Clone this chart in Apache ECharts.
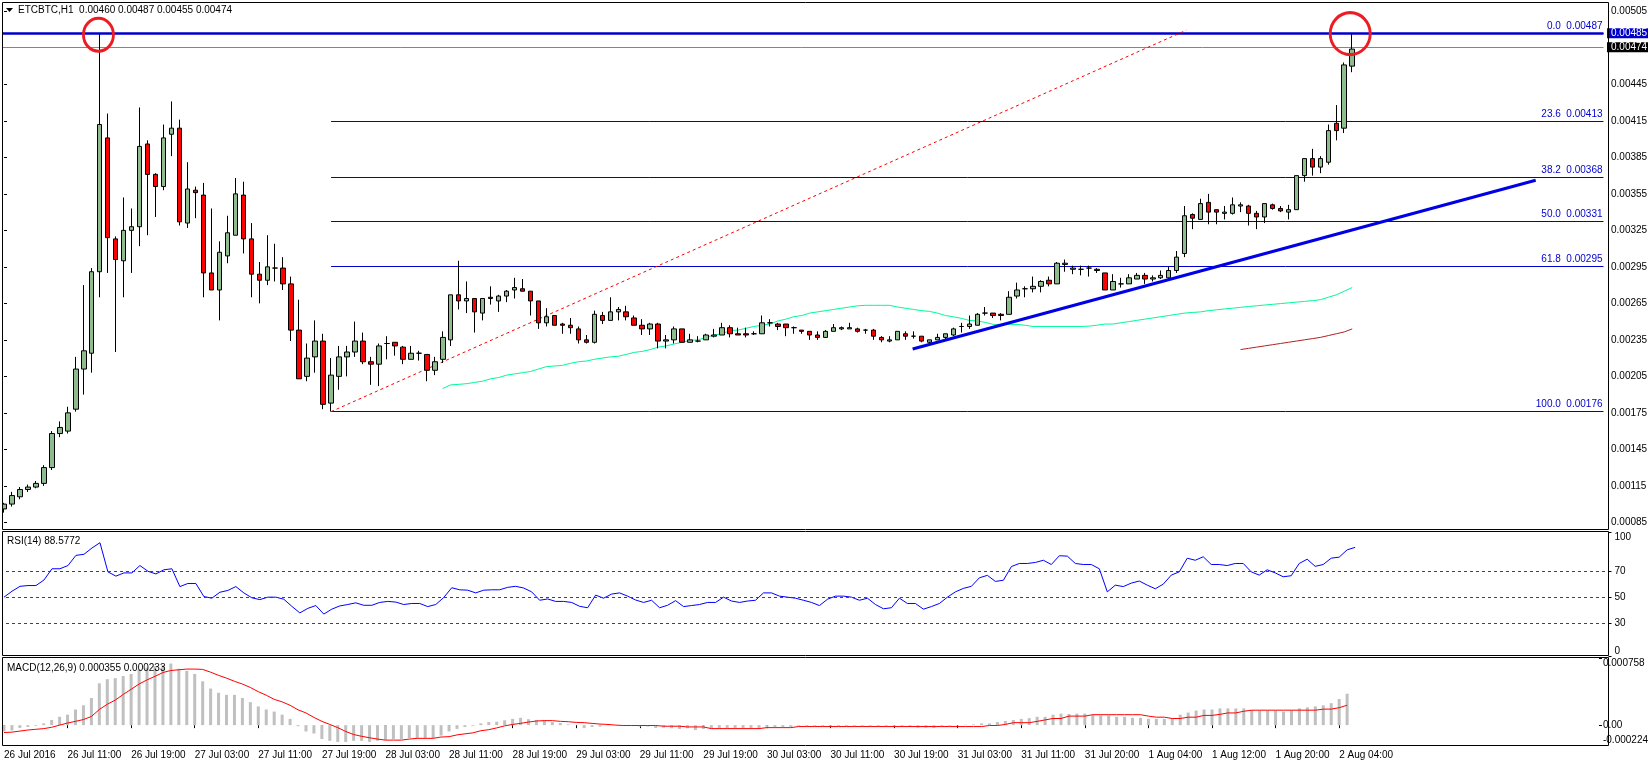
<!DOCTYPE html>
<html>
<head>
<meta charset="utf-8">
<title>ETCBTC H1</title>
<script src="https://cdn.jsdelivr.net/npm/echarts@6/dist/echarts.min.js"></script>
<style>
html,body{margin:0;padding:0;background:#fff;}
#chart{width:1651px;height:760px;}
</style>
</head>
<body>
<div id="chart"></div>
<script>
// prices are kept in points, 1 point = 0.00001 BTC
var opens = [96,100,106,112,114,117,130,158,160,178,211,224,291,401,318,300,325,328,396,371,
    361,404,409,331,358,354,290,276,304,321,354,318,289,284,294,294,281,243,205,221,
    234,183,205,221,225,234,217,215,232,233,229,219,224,223,210,219,235,272,267,269,
    257,270,267,271,276,277,275,267,249,255,248,247,244,235,233,255,251,258,258,253,
    247,244,248,234,235,244,233,234,235,238,239,245,240,240,240,240,249,248,248,245,
    243,242,239,237,242,244,244,244,243,243,237,234,235,240,238,238,233,235,237,239,
    246,246,247,257,257,256,256,271,277,277,279,284,281,297,293,293,294,292,290,276,
    281,281,285,288,285,286,286,292,306,338,334,348,342,339,339,345,345,339,336,346,
    343,340,342,370,384,377,381,413,409,460];
var closes = [100,107,112,114,117,130,158,163,175,211,226,291,412,319,301,325,328,394,371,361,
    401,409,332,359,356,290,276,307,323,355,318,289,284,295,294,281,243,203,220,234,
    182,206,221,225,234,217,215,230,232,230,219,224,224,210,217,237,272,267,269,258,
    269,269,271,275,278,275,267,249,254,247,247,245,235,233,256,251,258,260,254,247,
    244,248,234,235,244,233,235,234,239,239,245,240,239,239,240,249,249,246,245,245,
    242,239,237,242,245,245,245,242,243,238,235,235,242,238,238,234,235,237,240,244,
    246,248,256,257,255,255,270,276,277,279,283,281,298,298,294,293,294,293,276,283,
    281,286,288,285,286,288,292,303,337,335,347,340,340,340,346,346,339,336,347,343,
    341,342,370,384,377,384,407,407,461,474];
var lows = [93,98,104,110,113,115,128,155,158,176,190,208,270,290,225,270,290,312,321,336,
    358,386,329,327,335,270,276,251,298,321,306,270,265,280,283,276,234,203,201,208,
    178,176,194,205,221,215,198,197,219,222,215,219,218,201,206,216,230,260,257,241,
    251,264,258,266,269,275,255,244,246,247,240,240,232,232,232,248,251,251,251,247,
    239,239,228,228,232,233,233,233,235,237,239,237,239,237,239,240,246,243,238,240,
    240,235,235,237,242,243,244,241,240,235,233,233,235,235,236,233,232,235,235,238,
    241,244,247,255,253,251,256,269,270,274,274,279,281,291,289,288,287,290,276,276,
    278,281,285,281,283,285,285,290,303,326,334,330,330,334,338,340,329,326,331,342,
    340,334,342,365,370,372,379,399,405,455];
var highs = [101,110,114,116,119,132,160,168,180,221,280,294,487,421,320,352,343,426,399,372,
    412,431,416,381,361,364,343,316,337,368,365,331,299,321,314,303,287,268,232,251,
    240,220,230,230,250,241,221,232,238,233,230,230,226,223,221,242,272,300,283,269,
    269,279,272,276,286,285,275,267,261,255,249,253,246,239,259,258,270,262,263,255,
    252,249,249,239,246,244,240,238,240,244,249,247,245,245,242,255,252,249,248,246,
    243,242,242,243,248,246,249,245,244,244,238,238,242,242,242,238,235,240,240,245,
    249,255,257,262,257,257,275,282,279,287,284,287,299,301,296,296,296,294,290,289,
    286,289,290,290,288,292,295,308,345,339,351,355,342,345,352,348,346,341,347,347,
    345,346,370,384,392,386,412,428,463,487];

// moving averages, first value sits on the bar named by the *Start variable
var greenMaStart = 55;
var greenMa = [195,198,198.4,199,200,201,203,204,206,207,208,209,211,213,213.5,214,215.7,217,217.6,219,
    220,221,221.5,223,224.7,225.5,227,229,230,231.6,233,234.6,235,237,239,240,242.7,243,244.5,246,
    247,248,250.5,252,254,255,257,258,259,260,261,262,263,263.4,263.4,263.4,263.4,262,261,260,
    259,258.4,257,255,254,252.7,251,250.5,249.4,247.7,247.7,247.7,247.7,247,246,246,246,246,246,246,
    246,246.3,247,248,248,249,250,251,252,253,254,255,256,257,257.5,258,259,259.7,260.4,
    261,261.7,262.4,263,263.6,264.2,264.8,265.4,266,266.6,267.2,268,270,272,275,278];
var redMaStart = 155;
var redMa = [227,228,229,230,231,232,233,234,235,236,237,238.5,240,241.5,244];

var rsiValues = [50,54.6,58.4,59,59,63.3,72,72,74.5,82.4,83.2,88.1,92.2,69.6,66.3,68.8,68.8,74.5,70.1,68,
    71.2,72,58.2,60.6,60.6,50.5,49.2,53.8,55.2,58.2,53.3,49.5,48.1,50,50,48.4,42.9,37.8,41.3,43.5,
    36.9,40.7,43.2,44.3,45.6,43.7,43.7,45.9,46.7,46.2,44.3,45.1,45.1,42.7,44.3,49.7,57.3,55.7,55.4,53.3,
    55.4,55.7,55.7,57.6,58.4,57.1,54.1,47.6,48.6,
    46.7,46.7,45.9,42.9,41.8,51.6,49.2,52.4,53.3,50.8,47.8,45.9,47.6,41.8,43.7,47.3,42.7,43.5,44.3,45.9,
    45.9,50,47,45.9,47,47.6,53.3,53.3,50.8,50,49.2,47.6,45.9,43.5,48.4,50.8,50.8,50,47.6,49.2,
    44.3,41,41.8,49.2,45.1,45.1,40.7,42.7,45.1,50,54.1,56.8,58.4,65,66.9,62.2,63.1,73.7,76.1,76.1,
    76.9,78.6,75.3,82.1,81.8,76.1,75.3,75.3,72,
    54.1,59.3,58.2,60.9,62.5,59.3,56.5,60.1,67.1,69.6,80.2,78.6,81.3,75.3,75.3,74.5,76.1,76.1,69.6,67.1,
    71.2,68.8,65.8,66.6,76.1,79.4,73.9,75.3,80.2,81,86.7,88.58];

// MACD in millionths
var macdBars = [-71,-59,-31,-20,-8,20,59,94,118,177,224,307,472,519,531,554,578,629,649,668,
    676,696,637,613,578,495,413,366,342,342,307,260,212,177,153,118,71,-12,-71,-94,
    -157,-177,-189,-189,-177,-177,-189,-177,-165,-157,-157,-145,-145,-145,-145,-118,-71,-43,-20,-8,
    20,35,39,55,71,83,67,59,59,
    35,24,8,4,-31,-20,-16,-4,0,0,0,-16,-16,-31,-28,-35,-43,-35,-55,-43,
    -43,-43,-39,-39,-39,-39,-39,-28,-20,-20,-20,-8,-12,-12,-12,-12,-12,-12,-12,-12,
    -12,-12,-12,-12,-12,-20,-28,-28,-31,-12,-8,-4,4,8,20,20,35,47,59,71,
    79,94,94,118,130,126,130,130,118,
    110,110,94,94,83,83,71,71,71,79,118,142,165,177,177,189,189,189,189,169,
    165,165,165,153,169,189,201,212,224,248,295,355];
var macdSignal = [-83,-79,-67,-55,-47,-39,-24,0,24,43,63,98,177,236,283,346,405,464,511,551,
    594,617,625,633,633,629,598,562,531,495,464,425,378,338,291,263,224,173,138,87,
    43,8,-28,-71,-106,-126,-142,-157,-169,-169,-169,-157,-149,-149,-149,-134,-130,-110,-98,-87,
    -63,-51,-31,-8,8,20,35,47,51,
    51,43,39,31,28,20,12,8,0,-4,-4,-4,-4,-4,-12,-12,-12,-20,-20,-20,
    -39,-39,-39,-39,-39,-39,-39,-28,-28,-28,-28,-16,-16,-16,-16,-16,-16,-16,-16,-16,
    -16,-16,-16,-16,-16,-16,-16,-16,-16,-16,-16,-16,-16,-16,-16,-4,-4,8,28,28,
    28,43,59,75,75,102,102,102,118,
    118,118,118,118,118,118,102,90,90,75,75,90,90,110,110,122,138,138,157,169,
    169,169,169,169,169,169,169,169,181,181,197,225];

var fibPrices = [487,414.7,368.6,332.5,295.5,176];
var fibLabels = ['0.0  0.00487','23.6  0.00413','38.2  0.00368','50.0  0.00331','61.8  0.00295','100.0  0.00176'];
var fibStartBar = 41;
var resistancePrice = 487;
var currentPrice = 475.5;
// [bar, price]
var supportLine = [[113.9,227.5],[192,366.2]];
var fibRay = [[41,176],[148.2,489.5]];
var circleLeft = [11.84,485.8];
var circleRight = [168.75,486.7];

var priceTicks = [505,487,475.5,445,415,385,355,325,295,265,235,205,175,145,115,85];
var rsiTicks = [30,50,70];
var rsiLevels = [70,50,30];
var macdTicks = [0];
var timeLabels = ['26 Jul 2016','26 Jul 11:00','26 Jul 19:00','27 Jul 03:00','27 Jul 11:00','27 Jul 19:00',
    '28 Jul 03:00','28 Jul 11:00','28 Jul 19:00','29 Jul 03:00','29 Jul 11:00','29 Jul 19:00',
    '30 Jul 03:00','30 Jul 11:00','30 Jul 19:00','31 Jul 03:00','31 Jul 11:00','31 Jul 20:00',
    '1 Aug 04:00','1 Aug 12:00','1 Aug 20:00','2 Aug 04:00'];
var barsPerLabel = 8;
var barSlots = 201; // 170 bars plus the empty space MT4 leaves on the right

var FONT = '"Liberation Sans", sans-serif';
var FONT_SIZE = 10;
var BLUE = '#0000cd';

// every slot is 8px wide, so bar n has its centre at x = 3 + 8n
var gridLeft = -1, gridWidth = 1608, axisOffset = 1.5;
var rsiMin = 4.4, rsiMax = 100.5;

function slotNames() {
    var res = [];
    for (var i = 0; i < barSlots; i++) {
        res.push(i % barsPerLabel === 0 && timeLabels[i / barsPerLabel] ? timeLabels[i / barsPerLabel] : '');
    }
    return res;
}

function indexed(arr, start) {
    var res = [];
    for (var i = 0; i < arr.length; i++) {
        res.push([start + i, arr[i]]);
    }
    return res;
}

function candleData() {
    var res = [];
    for (var i = 0; i < opens.length; i++) {
        res.push([opens[i], closes[i], lows[i], highs[i]]);
    }
    return res;
}

function fibLines() {
    var res = [];
    for (var i = 0; i < fibPrices.length; i++) {
        res.push([
            {coord: [fibStartBar, fibPrices[i]], name: fibLabels[i]},
            {coord: [barSlots - 0.5, fibPrices[i]]}
        ]);
    }
    return res;
}

function isLabelSlot(index) {
    return index % barsPerLabel === 0 && index / barsPerLabel < timeLabels.length;
}

function priceLabel(v) {
    //the two tags on the price axis
    if (v === resistancePrice) {
        return '{blueTag|0.00485}';
    }
    if (v === currentPrice) {
        return '{blackTag|0.00474}';
    }
    return '{n|0.00' + ('00' + v).slice(-3) + '}';
}

function hiddenX(idx) {
    return {type: 'category', gridIndex: idx, data: slotNames(), show: false};
}

function frame(top, bottom) {
    return {
        type: 'rect', silent: true, z: 100,
        shape: {x: 2.5, y: top, width: 1606, height: bottom - top},
        style: {fill: null, stroke: '#000', lineWidth: 1}
    };
}

var tagBase = {fontFamily: FONT, fontSize: FONT_SIZE, width: 37, height: 10, lineHeight: 10, padding: [0, 0, 0, 4], align: 'left'};

var option = {
    animation: false,
    backgroundColor: '#fff',
    title: [
        {text: 'ETCBTC,H1  0.00460 0.00487 0.00455 0.00474', left: 18, top: 5, padding: 0,
            textStyle: {fontFamily: FONT, fontSize: FONT_SIZE, fontWeight: 'normal', color: '#000'}},
        {text: 'RSI(14) 88.5772', left: 7, top: 536, padding: 0,
            textStyle: {fontFamily: FONT, fontSize: FONT_SIZE, fontWeight: 'normal', color: '#000'}},
        {text: 'MACD(12,26,9) 0.000355 0.000233', left: 7, top: 663, padding: 0,
            textStyle: {fontFamily: FONT, fontSize: FONT_SIZE, fontWeight: 'normal', color: '#000'}}
    ],
    graphic: [
        //bars left of the frame are cut off like in the terminal
        {type: 'rect', silent: true, z: 99, shape: {x: 0, y: 0, width: 2.5, height: 760}, style: {fill: '#fff'}},
        frame(2.5, 529.5),
        frame(531.5, 655.5),
        frame(657.5, 745.5),
        //the little drop-down arrow in front of the symbol name
        {type: 'polygon', silent: true, z: 100, shape: {points: [[6, 8], [13, 8], [9.5, 12]]}, style: {fill: '#000'}}
    ],
    grid: [
        {left: gridLeft, width: gridWidth, top: 2.5, height: 527.5},
        {left: gridLeft, width: gridWidth, top: 532, height: 124},
        {left: gridLeft, width: gridWidth, top: 658, height: 87.6}
    ],
    xAxis: [
        hiddenX(0),
        hiddenX(1),
        {
            type: 'category', gridIndex: 2, data: slotNames(),
            axisLine: {show: false},
            axisTick: {show: true, length: 3, alignWithLabel: true, interval: function (i) { return isLabelSlot(i); }, lineStyle: {color: '#000'}},
            axisLabel: {
                show: true, align: 'left', margin: 5, hideOverlap: false,
                interval: function (i) { return isLabelSlot(i); },
                fontFamily: FONT, fontSize: FONT_SIZE, color: '#000'
            }
        },
        //same width as the slots, for lines that start or end between two bars
        {type: 'value', gridIndex: 0, min: -0.5, max: barSlots - 0.5, show: false, splitLine: {show: false}}
    ],
    yAxis: [
        {
            type: 'value', gridIndex: 0, position: 'right', offset: axisOffset, min: 78.7, max: 512.3, scale: true,
            splitLine: {show: false},
            axisLine: {show: false},
            axisTick: {show: true, length: 3, lineStyle: {color: '#000'}, customValues: priceTicks},
            axisLabel: {
                show: true, customValues: priceTicks, margin: 2, hideOverlap: false,
                formatter: priceLabel,
                rich: {
                    n: {fontFamily: FONT, fontSize: FONT_SIZE, color: '#000', padding: [0, 0, 0, 4]},
                    blueTag: Object.assign({color: '#fff', backgroundColor: BLUE}, tagBase),
                    blackTag: Object.assign({color: '#fff', backgroundColor: '#000'}, tagBase)
                }
            }
        },
        {
            type: 'value', gridIndex: 1, position: 'right', offset: axisOffset, min: rsiMin, max: rsiMax, scale: true,
            splitLine: {show: false},
            axisLine: {show: false},
            axisTick: {show: true, length: 3, lineStyle: {color: '#000'}, customValues: [rsiMin].concat(rsiTicks, [rsiMax])},
            axisLabel: {
                show: true, customValues: [rsiMin].concat(rsiTicks, [rsiMax]), margin: 6, hideOverlap: false,
                fontFamily: FONT, fontSize: FONT_SIZE, color: '#000',
                verticalAlignMinLabel: 'bottom', verticalAlignMaxLabel: 'top',
                showMinLabel: true, showMaxLabel: true,
                formatter: function (v) {
                    if (v === rsiMin) { return '0'; }
                    if (v === rsiMax) { return '100'; }
                    return String(v);
                }
            }
        },
        {
            type: 'value', gridIndex: 2, position: 'right', offset: axisOffset, min: -224, max: 758, scale: true,
            splitLine: {show: false},
            axisLine: {show: false},
            axisTick: {show: true, length: 3, lineStyle: {color: '#000'}, customValues: [-224].concat(macdTicks, [758])},
            axisLabel: {
                show: true, customValues: [-224].concat(macdTicks, [758]), margin: 4, hideOverlap: false,
                fontFamily: FONT, fontSize: FONT_SIZE, color: '#000',
                verticalAlignMinLabel: 'bottom', verticalAlignMaxLabel: 'top',
                showMinLabel: true, showMaxLabel: true,
                formatter: function (v) {
                    if (v === 0) { return '0.00'; }
                    return (v / 1000000).toFixed(6);
                }
            }
        }
    ],
    series: [
        {
            name: 'levels', type: 'line', xAxisIndex: 3, yAxisIndex: 0, data: [], z: 1,
            markLine: {
                silent: true, symbol: 'none', z: 1, animation: false,
                label: {
                    show: true, position: 'insideEndTop', distance: [1, 2], color: BLUE,
                    fontFamily: FONT, fontSize: FONT_SIZE,
                    formatter: function (p) { return p.name; }
                },
                lineStyle: {color: BLUE, width: 1, type: 'solid'},
                data: fibLines()
            }
        },
        {
            name: 'horizontals', type: 'line', xAxisIndex: 3, yAxisIndex: 0, data: [], z: 1,
            markLine: {
                silent: true, symbol: 'none', z: 1, animation: false, label: {show: false},
                data: [
                    {yAxis: currentPrice, lineStyle: {color: '#778899', width: 1, type: 'solid'}},
                    {yAxis: resistancePrice, lineStyle: {color: BLUE, width: 2.5, type: 'solid'}}
                ]
            }
        },
        {
            name: 'fibRay', type: 'line', xAxisIndex: 3, yAxisIndex: 0, z: 1,
            symbol: 'none', data: fibRay, lineStyle: {color: '#ff0000', width: 1, type: [3, 3]}
        },
        {
            name: 'ma green', type: 'line', xAxisIndex: 3, yAxisIndex: 0, z: 1,
            symbol: 'none', data: indexed(greenMa, greenMaStart), lineStyle: {color: '#00fa9a', width: 1}
        },
        {
            name: 'ma red', type: 'line', xAxisIndex: 3, yAxisIndex: 0, z: 1,
            symbol: 'none', data: indexed(redMa, redMaStart), lineStyle: {color: '#b22222', width: 1}
        },
        {
            name: 'ETCBTC', type: 'candlestick', xAxisIndex: 0, yAxisIndex: 0, z: 2,
            barWidth: 5, data: candleData(),
            itemStyle: {color: '#8fbc8f', color0: '#ff0000', borderColor: '#000', borderColor0: '#000', borderWidth: 1}
        },
        {
            name: 'support', type: 'line', xAxisIndex: 3, yAxisIndex: 0, z: 3,
            symbol: 'none', data: supportLine, lineStyle: {color: '#0000e6', width: 3}
        },
        {
            name: 'circles', type: 'scatter', xAxisIndex: 3, yAxisIndex: 0, z: 4, clip: false,
            symbol: 'circle', symbolSize: [30, 33], data: [circleLeft],
            itemStyle: {color: 'rgba(0,0,0,0)', borderColor: '#ed1c24', borderWidth: 3, opacity: 1}
        },
        {
            name: 'circles2', type: 'scatter', xAxisIndex: 3, yAxisIndex: 0, z: 4, clip: false,
            symbol: 'circle', symbolSize: [40, 42], data: [circleRight],
            itemStyle: {color: 'rgba(0,0,0,0)', borderColor: '#ed1c24', borderWidth: 3, opacity: 1}
        },
        {
            name: 'RSI', type: 'line', xAxisIndex: 1, yAxisIndex: 1, symbol: 'none',
            data: rsiValues, lineStyle: {color: '#0000ff', width: 1},
            markLine: {
                silent: true, symbol: 'none', animation: false, label: {show: false},
                lineStyle: {color: '#9400d3', width: 1, type: [3, 3]},
                data: [{yAxis: rsiLevels[0]}, {yAxis: rsiLevels[1]}, {yAxis: rsiLevels[2]}]
            }
        },
        {
            name: 'MACD', type: 'bar', xAxisIndex: 2, yAxisIndex: 2, barWidth: 3,
            data: macdBars, itemStyle: {color: '#c0c0c0'}
        },
        {
            name: 'Signal', type: 'line', xAxisIndex: 2, yAxisIndex: 2, symbol: 'none', z: 3,
            data: macdSignal, lineStyle: {color: '#ff0000', width: 1}
        }
    ]
};

var myChart = echarts.init(document.getElementById('chart'));
myChart.setOption(option);
</script>
</body>
</html>
